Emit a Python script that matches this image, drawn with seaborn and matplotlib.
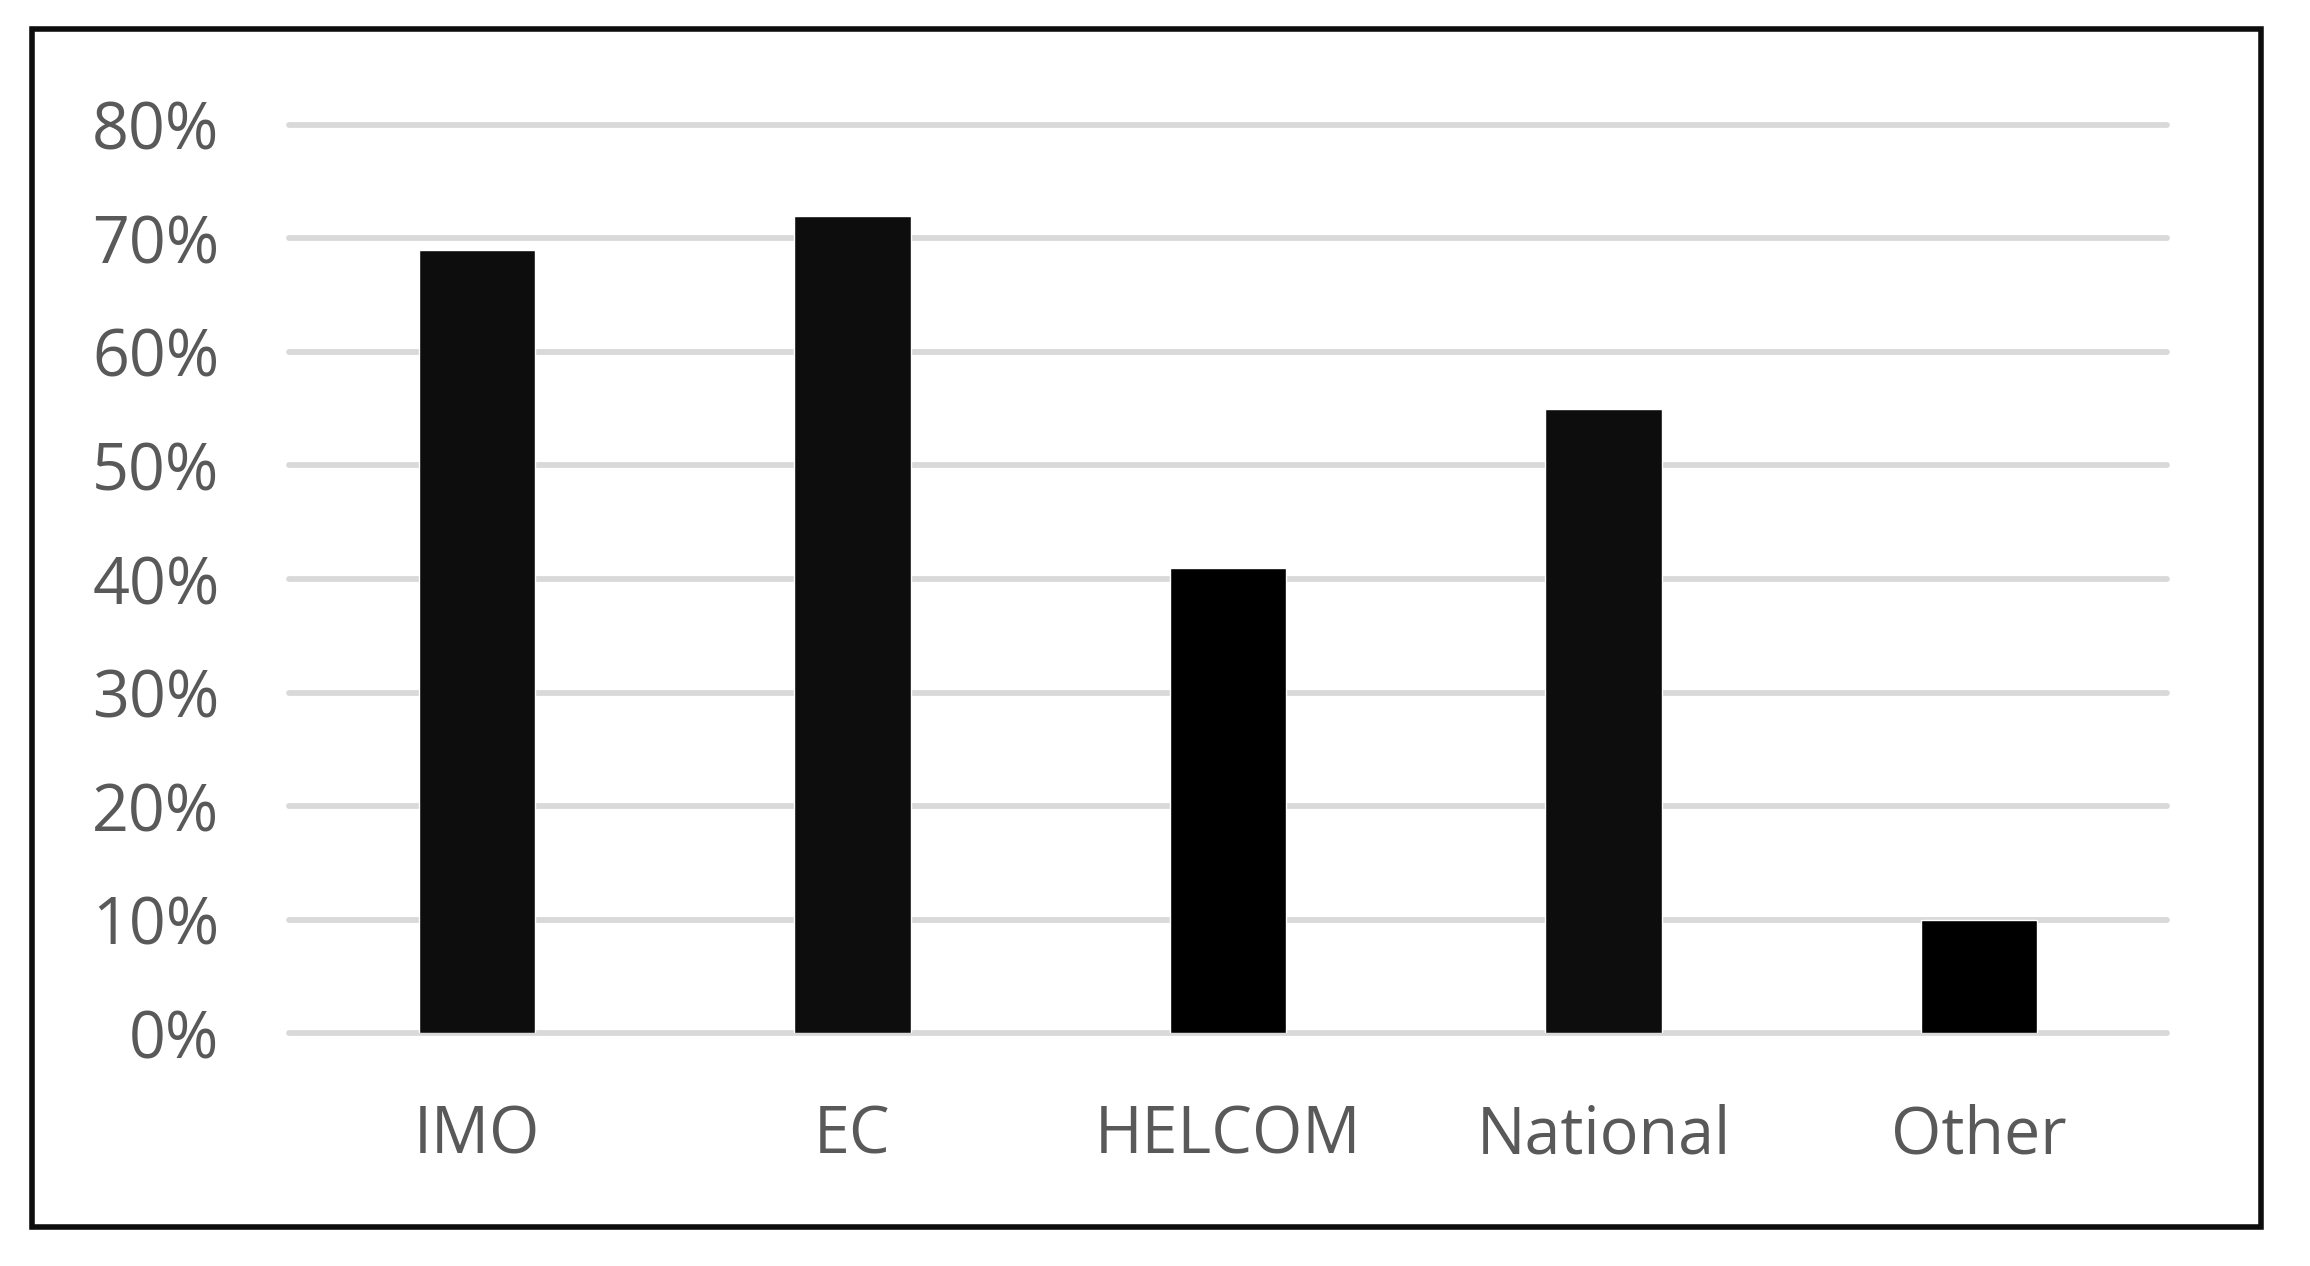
import matplotlib
matplotlib.use("Agg")
import matplotlib.pyplot as plt
from matplotlib.patches import Rectangle
from matplotlib.ticker import PercentFormatter
import pandas as pd
import seaborn as sns

categories = ["IMO", "EC", "HELCOM", "National", "Other"]
shares = [0.69, 0.72, 0.41, 0.55, 0.10]
bar_colors = ["#0d0d0d", "#0d0d0d", "#000000", "#0d0d0d", "#000000"]
y_ticks = [0.0, 0.1, 0.2, 0.3, 0.4, 0.5, 0.6, 0.7, 0.8]

df = pd.DataFrame({"category": categories, "share": shares})

sns.set_theme(style="white")
plt.rcParams["font.family"] = ["Open Sans", "DejaVu Sans"]

fig = plt.figure(figsize=(23.1, 12.66), dpi=100)
ax = fig.add_axes([0.1251, 0.1840, 0.8130, 0.7173])

sns.barplot(data=df, x="category", y="share", hue="category",
            palette=bar_colors, width=0.31, legend=False, saturation=1,
            ax=ax)

ax.set_xlim(-0.5, 4.5)
ax.set_ylim(0, 0.8)
ax.set_yticks(y_ticks)
ax.yaxis.set_major_formatter(PercentFormatter(1.0, decimals=0))
ax.set_xlabel("")
ax.set_ylabel("")

ax.set_axisbelow(True)
ax.grid(axis="y", color="#d9d9d9", linewidth=4.2)
ax.grid(axis="x", visible=False)
for gl in ax.get_ygridlines():
    gl.set_clip_on(False)

sns.despine(ax=ax, left=True, bottom=True)
ax.tick_params(axis="both", length=0, labelsize=46.5, labelcolor="#595959")
ax.tick_params(axis="y", pad=50)
ax.tick_params(axis="x", pad=51)

# outer border around the chart
fig.patches.append(Rectangle((0.0139, 0.0308), 0.9649, 0.9462,
                             transform=fig.transFigure, fill=False,
                             edgecolor="#0d0d0d", linewidth=4))

fig.savefig("out.png", dpi=100, facecolor="white")
